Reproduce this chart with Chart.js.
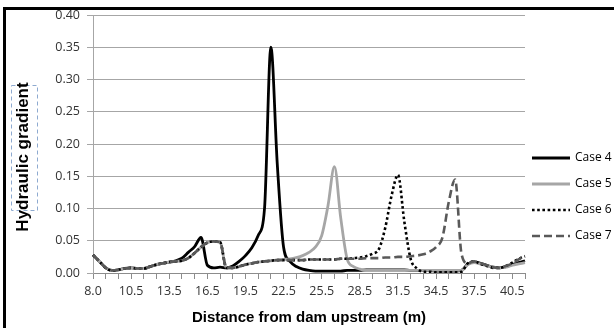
<!DOCTYPE html>
<html>
<head>
<meta charset="utf-8">
<title>Hydraulic gradient</title>
<script src="https://cdn.jsdelivr.net/npm/chart.js@4.4.1/dist/chart.umd.min.js"></script>
<style>
    html, body { margin: 0; padding: 0; background: #fff; }
    #wrap { position: relative; width: 614px; height: 328px; overflow: hidden; }
    #frame {
        position: absolute; left: 3px; top: 7px; width: 700px; height: 400px;
        border-left: 3px solid #000; border-top: 3px solid #000; pointer-events: none;
    }
</style>
</head>
<body>
<div id="wrap">
    <canvas id="gradientChart" width="614" height="328"></canvas>
    <div id="frame"></div>
</div>
<script>
// Distance from dam upstream (m), one category per half metre
const distances = [
    '8.0', '8.5', '9.0', '9.25', '9.5', '10.0',
    '10.5', '11.0', '11.5', '12.0', '12.5', '13.0', '13.5', '14.0', '14.5', '15.0',
    '15.5', '16.0', '16.5', '17.0', '17.5', '18.0', '18.5', '19.0', '19.5', '20.0',
    '20.5', '21.0', '21.5', '22.0', '22.5', '23.0', '23.5', '24.0', '24.5', '25.0',
    '25.5', '26.0', '26.5', '27.0', '27.5', '28.0', '28.5', '29.0', '29.5', '30.0',
    '30.5', '31.0', '31.5', '32.0', '32.5', '33.0', '33.5', '34.0', '34.5', '35.0',
    '35.5', '36.0', '36.5', '37.0', '37.5', '38.0', '38.5', '39.0', '39.5', '40.0',
    '40.5', '41.0', '41.5'
];

const case4 = [
    0.028, 0.018, 0.008, 0.004, 0.005, 0.007, 0.008, 0.007, 0.007, 0.010, 0.013, 0.015, 0.017, 0.019,
    0.023, 0.032, 0.041, 0.055, 0.012, 0.008, 0.009, 0.008, 0.011, 0.018, 0.027, 0.039, 0.058, 0.100,
    0.350, 0.170, 0.040, 0.018, 0.010, 0.006, 0.004, 0.003, 0.003, 0.003, 0.003, 0.003, 0.004, 0.004,
    0.004, 0.005, 0.005, 0.005, 0.005, 0.005, 0.005, 0.005, 0.004, 0.004, 0.004, 0.004, 0.003, 0.003,
    0.003, 0.003, 0.004, 0.014, 0.017, 0.015, 0.012, 0.009, 0.008, 0.010, 0.013, 0.016, 0.019
];

const case5 = [
    0.028, 0.018, 0.008, 0.004, 0.005, 0.007, 0.008, 0.007, 0.007, 0.010, 0.013, 0.015, 0.017, 0.018,
    0.019, 0.023, 0.031, 0.040, 0.047, 0.049, 0.048, 0.008, 0.008, 0.010, 0.013, 0.015, 0.017, 0.018,
    0.019, 0.020, 0.021, 0.022, 0.024, 0.027, 0.032, 0.040, 0.058, 0.105, 0.165, 0.085, 0.022, 0.010,
    0.006, 0.004, 0.004, 0.004, 0.004, 0.004, 0.004, 0.004, 0.004, 0.004, 0.004, 0.004, 0.004, 0.004,
    0.004, 0.004, 0.004, 0.013, 0.016, 0.014, 0.011, 0.009, 0.008, 0.009, 0.012, 0.014, 0.016
];

const case6 = [
    0.028, 0.018, 0.008, 0.004, 0.005, 0.007, 0.008, 0.007, 0.007, 0.010, 0.013, 0.015, 0.017, 0.018,
    0.019, 0.023, 0.031, 0.040, 0.047, 0.049, 0.048, 0.008, 0.008, 0.010, 0.013, 0.015, 0.017, 0.018,
    0.019, 0.020, 0.020, 0.020, 0.020, 0.020, 0.021, 0.021, 0.021, 0.021, 0.021, 0.022, 0.022, 0.023,
    0.024, 0.026, 0.030, 0.037, 0.070, 0.120, 0.152, 0.080, 0.022, 0.007, 0.002, 0.002, 0.001, 0.001,
    0.001, 0.001, 0.002, 0.015, 0.018, 0.014, 0.011, 0.008, 0.008, 0.011, 0.016, 0.022, 0.026
];

const case7 = [
    0.028, 0.018, 0.008, 0.004, 0.005, 0.007, 0.008, 0.007, 0.007, 0.010, 0.013, 0.015, 0.017, 0.018,
    0.019, 0.023, 0.031, 0.040, 0.047, 0.049, 0.048, 0.008, 0.008, 0.010, 0.013, 0.015, 0.017, 0.018,
    0.019, 0.020, 0.020, 0.020, 0.020, 0.020, 0.021, 0.021, 0.021, 0.021, 0.021, 0.022, 0.022, 0.022,
    0.022, 0.023, 0.023, 0.023, 0.024, 0.024, 0.025, 0.025, 0.026, 0.027, 0.029, 0.033, 0.040, 0.055,
    0.110, 0.145, 0.030, 0.015, 0.018, 0.015, 0.012, 0.009, 0.008, 0.011, 0.015, 0.021, 0.027
];

const X_TITLE = 'Distance from dam upstream (m)';
const Y_TITLE = 'Hydraulic gradient';

const TICK_FONT = { family: '"Open Sans", sans-serif', size: 12.5 };
const GRID_GRAY = '#a6a6a6';

// y title (with its dashed text box) and the legend on the right
const sideText = {
    id: 'sideText',
    afterDraw(chart) {
        const ctx = chart.ctx;

        ctx.save();
        ctx.strokeStyle = '#8eaad0';
        ctx.lineWidth = 1;
        ctx.setLineDash([4, 3]);
        ctx.strokeRect(11.5, 85.5, 26, 125);
        ctx.setLineDash([]);
        ctx.translate(23, 157);
        ctx.rotate(-Math.PI / 2);
        ctx.font = 'bold 17px "Liberation Sans", Arial, sans-serif';
        ctx.fillStyle = '#000';
        ctx.textAlign = 'center';
        ctx.textBaseline = 'middle';
        ctx.fillText(Y_TITLE, 0, 0);
        ctx.restore();

        ctx.save();
        ctx.font = '12px "Open Sans", sans-serif';
        ctx.fillStyle = '#000';
        ctx.textBaseline = 'middle';
        chart.data.datasets.forEach((ds, i) => {
            const y = 158 + i * 26;
            ctx.beginPath();
            ctx.setLineDash(ds.borderDash || []);
            ctx.lineWidth = ds.borderWidth;
            ctx.strokeStyle = ds.borderColor;
            ctx.moveTo(532, y);
            ctx.lineTo(570, y);
            ctx.stroke();
            ctx.fillText(ds.label, 575, y);
        });
        ctx.restore();
    }
};

const ctx = document.getElementById('gradientChart').getContext('2d');
new Chart(ctx, {
    type: 'line',
    data: {
        labels: distances,
        datasets: [
            { label: 'Case 4', data: case4, borderColor: '#000000', borderWidth: 2.8, order: 4 },
            { label: 'Case 5', data: case5, borderColor: '#a6a6a6', borderWidth: 2.8, order: 3 },
            { label: 'Case 6', data: case6, borderColor: '#000000', borderWidth: 2.6, borderDash: [2.6, 2.6], order: 2 },
            { label: 'Case 7', data: case7, borderColor: '#595959', borderWidth: 2.6, borderDash: [8, 4], order: 1 }
        ]
    },
    options: {
        responsive: false,
        animation: false,
        layout: { padding: { left: 0, top: 15, right: 89, bottom: 0 } },
        elements: {
            point: { radius: 0 },
            line: {
                cubicInterpolationMode: 'monotone',
                fill: false,
                borderCapStyle: 'butt',
                borderJoinStyle: 'round'
            }
        },
        plugins: {
            legend: { display: false },
            tooltip: { enabled: false }
        },
        scales: {
            x: {
                type: 'category',
                offset: false,
                afterFit: scale => { scale.height = 55; },
                grid: {
                    drawOnChartArea: false,
                    drawTicks: true,
                    tickLength: 6,
                    color: c => (c.index % 2 === 0 ? '#8c8c8c' : 'rgba(0,0,0,0)')
                },
                border: { display: true, color: '#8c8c8c' },
                ticks: {
                    autoSkip: false,
                    maxRotation: 0,
                    minRotation: 0,
                    padding: 5,
                    color: '#333',
                    font: TICK_FONT,
                    callback: (value, index) => (index % 6 === 0 ? distances[index] : '')
                },
                title: {
                    display: true,
                    text: X_TITLE,
                    color: '#000',
                    font: { family: '"Liberation Sans", Arial, sans-serif', size: 15, weight: 'bold' },
                    padding: { top: 4, bottom: 1 }
                }
            },
            y: {
                min: 0,
                max: 0.4,
                afterFit: scale => { scale.width = 93; },
                grid: { color: GRID_GRAY, lineWidth: 1, tickLength: 6 },
                border: { display: true, color: GRID_GRAY },
                ticks: {
                    stepSize: 0.05,
                    padding: 7,
                    color: '#333',
                    font: TICK_FONT,
                    callback: value => value.toFixed(2)
                }
            }
        }
    },
    plugins: [sideText]
});
</script>
</body>
</html>
